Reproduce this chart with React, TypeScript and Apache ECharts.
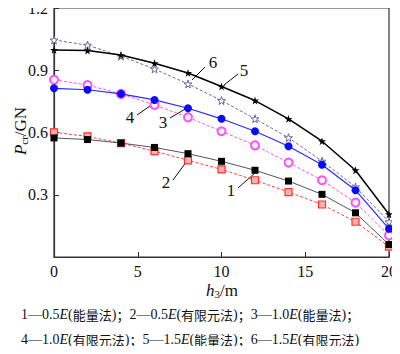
import React, { useEffect, useRef } from "react";
import * as echarts from "echarts";

const xValues = [0, 2, 4, 6, 8, 10, 12, 14, 16, 18, 20];
const s1 = [0.574, 0.566, 0.549, 0.528, 0.498, 0.461, 0.418, 0.366, 0.302, 0.213, 0.06];
const s2 = [0.601, 0.581, 0.549, 0.51, 0.466, 0.422, 0.37, 0.313, 0.253, 0.17, 0.05];
const s3 = [0.813, 0.806, 0.786, 0.757, 0.717, 0.666, 0.606, 0.534, 0.445, 0.322, 0.136];
const s4 = [0.854, 0.829, 0.786, 0.733, 0.673, 0.606, 0.538, 0.455, 0.37, 0.262, 0.104];
const s5 = [0.998, 0.995, 0.973, 0.934, 0.887, 0.822, 0.754, 0.666, 0.558, 0.418, 0.206];
const s6 = [1.046, 1.021, 0.968, 0.906, 0.834, 0.754, 0.666, 0.575, 0.462, 0.338, 0.17];
const seriesNames = ["1", "2", "3", "4", "5", "6"];
const legendLine1 = ["1—0.5", "E", "(", "能量法", ")；2—0.5", "E", "(", "有限元法", ")；3—1.0", "E", "(", "能量法", ")；"];
const legendLine2 = ["4—1.0", "E", "(", "有限元法", ")；5—1.5", "E", "(", "能量法", ")；6—1.5", "E", "(", "有限元法", ")"];

const STAR = "path://M50,0 L61,35 L98,35 L68,57 L79,91 L50,70 L21,91 L32,57 L2,35 L39,35 Z";
const SERIF = "'Liberation Serif', 'Times New Roman', serif";
const CJK = "'Noto Sans CJK SC', sans-serif";

function richLine(parts: string[]) {
  return parts
    .map((p, i) => {
      const k = i % 4;
      if (k === 1) return `{e|${p}}`;
      if (k === 3) return `{c|${p}}`;
      return `{n|${p.replace("；", "}{c|；}{n|")}}`;
    })
    .join("");
}

export default function App() {
  const ref = useRef<HTMLDivElement>(null);
  useEffect(() => {
    if (!ref.current) return;
    const chart = echarts.init(ref.current, undefined, { renderer: "svg" });
    const pair = (arr: number[]) => xValues.map((x, i) => [x, arr[i]]);
    const legendRich = {
      n: { fontFamily: SERIF, fontSize: 14, fill: "#111", lineHeight: 18 },
      e: { fontFamily: SERIF, fontSize: 14, fontStyle: "italic", fill: "#111", lineHeight: 18 },
      c: { fontFamily: CJK, fontSize: 13, fill: "#111", lineHeight: 18 },
    };
    const lbl = (x: number, y: number, t: string) => ({
      type: "text",
      x,
      y,
      style: { text: t, font: `17px ${SERIF}`, fill: "#111", align: "center", verticalAlign: "middle" },
    });
    const ln = (x1: number, y1: number, x2: number, y2: number) => ({
      type: "line",
      shape: { x1, y1, x2, y2 },
      style: { stroke: "#111", lineWidth: 1 },
    });
    const titleRich = {
      i: { fontFamily: SERIF, fontSize: 17, fontStyle: "italic", lineHeight: 18, fill: "#111" },
      s: { fontFamily: SERIF, fontSize: 11, lineHeight: 11, verticalAlign: "bottom", fill: "#111" },
      n: { fontFamily: SERIF, fontSize: 17, lineHeight: 18, fill: "#111" },
    };
    chart.setOption({
      animation: false,
      grid: { left: 54, right: 9, top: 7, bottom: 97, show: true, borderColor: "#333", borderWidth: 1.2 },
      xAxis: {
        type: "value",
        min: 0,
        max: 20,
        interval: 5,
        axisLine: { lineStyle: { color: "#333", width: 1.2 } },
        axisTick: { inside: true, length: 5, lineStyle: { color: "#333" } },
        axisLabel: { color: "#111", fontFamily: SERIF, fontSize: 16, margin: 6 },
        splitLine: { show: false },
      },
      yAxis: {
        type: "value",
        min: 0,
        max: 1.2,
        interval: 0.3,
        axisLine: { show: true, lineStyle: { color: "#333", width: 1.2 } },
        axisTick: { show: true, inside: true, length: 5, lineStyle: { color: "#333" } },
        axisLabel: {
          color: "#111",
          fontFamily: SERIF,
          fontSize: 16,
          margin: 6,
          showMinLabel: false,
          formatter: (v: number) => v.toFixed(1),
        },
        splitLine: { show: false },
      },
      series: [
        {
          name: seriesNames[0],
          type: "line",
          data: pair(s1),
          symbol: "rect",
          symbolSize: 7,
          itemStyle: { color: "#000" },
          lineStyle: { color: "#555", width: 1 },
          z: 3,
        },
        {
          name: seriesNames[1],
          type: "line",
          data: pair(s2),
          symbol: "rect",
          symbolSize: 7,
          itemStyle: { color: "#ffb0b0", borderColor: "#ff3030", borderWidth: 1.2 },
          lineStyle: { color: "#ff4040", width: 1, type: [3, 2] },
          z: 2,
        },
        {
          name: seriesNames[2],
          type: "line",
          data: pair(s3),
          symbol: "circle",
          symbolSize: 8,
          itemStyle: { color: "#0a0aff" },
          lineStyle: { color: "#2a2aff", width: 1.2 },
          z: 3,
        },
        {
          name: seriesNames[3],
          type: "line",
          data: pair(s4),
          symbol: "emptyCircle",
          symbolSize: 8,
          itemStyle: { color: "#ff50ff", borderWidth: 1 },
          lineStyle: { color: "#ff50ff", width: 1, type: [3, 2] },
          z: 2,
        },
        {
          name: seriesNames[4],
          type: "line",
          data: pair(s5),
          symbol: STAR,
          symbolSize: 8,
          itemStyle: { color: "#000" },
          lineStyle: { color: "#000", width: 1.5 },
          z: 3,
        },
        {
          name: seriesNames[5],
          type: "line",
          data: pair(s6),
          symbol: STAR,
          symbolSize: 8,
          itemStyle: { color: "#fff", borderColor: "#6a6a9a", borderWidth: 1 },
          lineStyle: { color: "#6a6a9a", width: 1, type: [3, 2] },
          z: 2,
        },
      ],
      graphic: [
        lbl(213, 62, "6"),
        ln(205, 67, 192, 80),
        lbl(244, 70, "5"),
        ln(238, 74, 224, 85),
        lbl(130, 117, "4"),
        ln(137, 115, 150, 106),
        lbl(163, 122, "3"),
        ln(170, 118, 187, 108),
        lbl(166, 182, "2"),
        ln(173, 180, 187, 161),
        lbl(231, 190, "1"),
        ln(238, 188, 255, 173),
        {
          type: "text",
          x: 20,
          y: 131,
          rotation: Math.PI / 2,
          style: { text: "{i|P}{s|cr}{n|/GN}", align: "center", verticalAlign: "middle", rich: titleRich },
        },
        {
          type: "text",
          x: 222,
          y: 290,
          style: { text: "{i|h}{s|3}{n|/m}", align: "center", verticalAlign: "middle", rich: titleRich },
        },
        {
          type: "text",
          x: 21,
          y: 314,
          style: { text: richLine(legendLine1), verticalAlign: "middle", rich: legendRich },
        },
        {
          type: "text",
          x: 21,
          y: 339,
          style: { text: richLine(legendLine2), verticalAlign: "middle", rich: legendRich },
        },
      ],
    });
    return () => chart.dispose();
  }, []);
  return <div ref={ref} style={{ width: 400, height: 354, margin: -8 }} />;
}
